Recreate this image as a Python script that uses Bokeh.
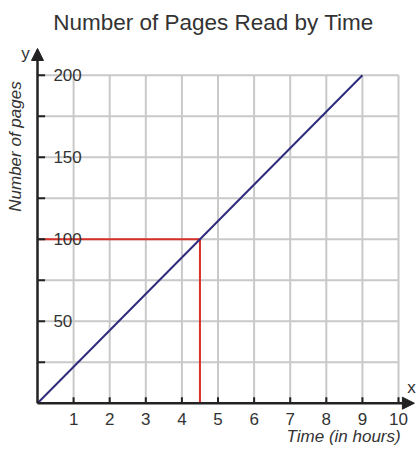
from bokeh.plotting import figure
from bokeh.models import Arrow, NormalHead
from bokeh.core.properties import value
from bokeh.embed import file_html
from bokeh.resources import INLINE
import math

# ---- data ----
hours = [0, 9]
pages = [0, 200]
read_hours = 4.5
read_pages = 100
x_ticks = [1, 2, 3, 4, 5, 6, 7, 8, 9, 10]
x_tick_labels = ["1", "2", "3", "4", "5", "6", "7", "8", "9", "10"]
y_ticks = [25, 50, 75, 100, 125, 150, 175, 200]
y_label_values = [50, 100, 150, 200]
y_tick_labels = ["50", "100", "150", "200"]
title_text = "Number of Pages Read by Time"
x_title = "Time (in hours)"
y_title = "Number of pages"
x_max = 10
y_max = 200

FONT = value("Liberation Sans")
TEXT_COLOR = "#333333"
GRID_COLOR = "#c9c9c9"
AXIS_COLOR = "#222222"
LINE_COLOR = "#2e2a7c"
RED = "#d8302a"

p = figure(width=420, height=449, x_range=(-1.025, 10.609), y_range=(-28.23, 245.55),
           x_axis_type=None, y_axis_type=None, output_backend="svg",
           toolbar_location=None, min_border=0, outline_line_color=None)
p.background_fill_color = "white"

# grid
p.segment(x0=x_ticks, y0=[0] * len(x_ticks), x1=x_ticks, y1=[y_max] * len(x_ticks),
          line_color=GRID_COLOR, line_width=2)
p.segment(x0=[0] * len(y_ticks), y0=y_ticks, x1=[x_max] * len(y_ticks), y1=y_ticks,
          line_color=GRID_COLOR, line_width=2)

# red guide lines
p.line([0, read_hours], [read_pages, read_pages], line_color=RED, line_width=2)
p.line([read_hours, read_hours], [read_pages, 0], line_color=RED, line_width=2)

# data line
p.line(hours, pages, line_color=LINE_COLOR, line_width=2)

# axes with arrows
y_tip = 216.3
x_tip = 10.44
p.add_layout(Arrow(end=NormalHead(size=12, fill_color=AXIS_COLOR, line_color=AXIS_COLOR),
                   x_start=0, y_start=0, x_end=0, y_end=y_tip,
                   line_color=AXIS_COLOR, line_width=2.5))
p.add_layout(Arrow(end=NormalHead(size=12, fill_color=AXIS_COLOR, line_color=AXIS_COLOR),
                   x_start=0, y_start=0, x_end=x_tip, y_end=0,
                   line_color=AXIS_COLOR, line_width=2.5))

# tick marks
p.segment(x0=x_ticks, y0=[0] * len(x_ticks), x1=x_ticks, y1=[3.7] * len(x_ticks),
          line_color=AXIS_COLOR, line_width=2)
p.segment(x0=[0] * len(y_ticks), y0=y_ticks, x1=[0.21] * len(y_ticks), y1=y_ticks,
          line_color=AXIS_COLOR, line_width=2)

# tick labels
p.text(x=x_ticks, y=[-9.6] * len(x_ticks), text=x_tick_labels, text_font=FONT,
       text_font_size="17px", text_color=TEXT_COLOR, text_align="center",
       text_baseline="middle")
p.text(x=[0.44] * len(y_label_values), y=y_label_values, text=y_tick_labels, text_font=FONT,
       text_font_size="17px", text_color=TEXT_COLOR, text_align="left",
       text_baseline="middle")

# axis letters
p.text(x=[-0.33], y=[213], text=["y"], text_font=FONT, text_font_size="17px",
       text_color=TEXT_COLOR, text_align="center", text_baseline="middle")
p.text(x=[10.36], y=[9.6], text=["x"], text_font=FONT, text_font_size="17px",
       text_color=TEXT_COLOR, text_align="center", text_baseline="middle")

# axis titles
p.text(x=[10.06], y=[-20.5], text=[x_title], text_font=FONT, text_font_size="17px",
       text_font_style="italic", text_color=TEXT_COLOR, text_align="right",
       text_baseline="middle")
p.text(x=[-0.61], y=[156.5], text=[y_title], text_font=FONT, text_font_size="17px",
       text_font_style="italic", text_color=TEXT_COLOR, text_align="center",
       text_baseline="middle", angle=math.pi / 2)

# title
p.text(x=[4.875], y=[232.1], text=[title_text], text_font=FONT, text_font_size="22.5px",
       text_color=TEXT_COLOR, text_align="center", text_baseline="middle")

open("out.html", "w").write(file_html(p, INLINE))
